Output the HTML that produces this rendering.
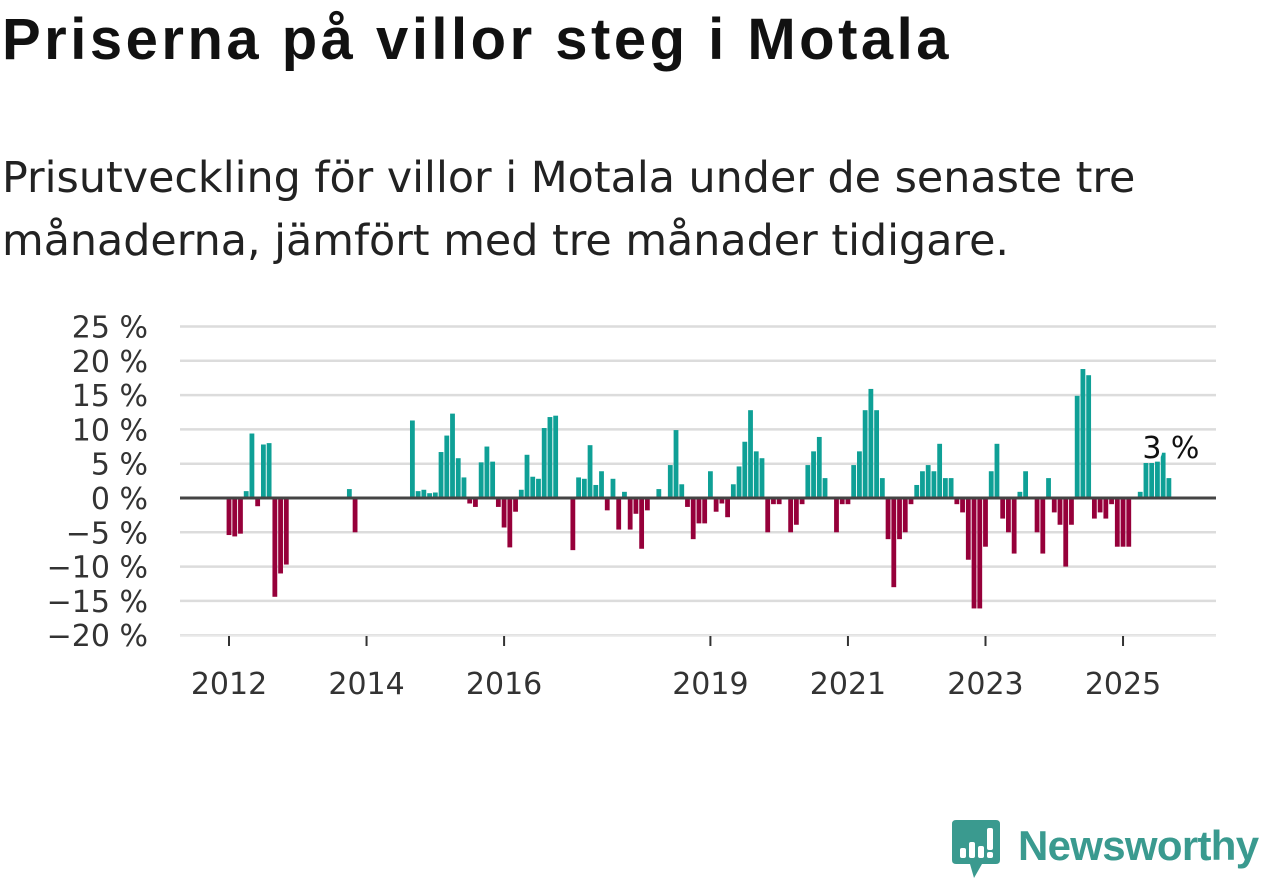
<!DOCTYPE html>
<html><head><meta charset="utf-8">
<style>
body{margin:0;background:#fff;width:1262px;height:879px;overflow:hidden;font-family:"Liberation Sans","DejaVu Sans",sans-serif;}
h1{position:absolute;left:2px;top:6px;margin:0;font-size:58px;font-weight:bold;color:#111;letter-spacing:3.5px;white-space:nowrap;}
.sub{position:absolute;left:2px;top:147px;margin:0;font-family:"DejaVu Sans",sans-serif;font-size:42.8px;line-height:63px;color:#222;white-space:nowrap;}
svg{position:absolute;left:0;top:0;}
</style></head><body>
<h1>Priserna på villor steg i Motala</h1>
<p class="sub">Prisutveckling för villor i Motala under de senaste tre<br>månaderna, jämfört med tre månader tidigare.</p>
<svg id="chart" width="1262" height="879"></svg>
<script>
const startYear = 2012;
const values = [-5.4,-5.6,-5.2,1,9.4,-1.2,7.8,8,-14.4,-11,-9.7,0,0,0,0,0,0,0,0,0,0,1.3,-5,0,0,0,0,0,0,0,0,0,
11.3,1.0,1.2,0.7,0.8,6.7,9.1,12.3,5.8,3.0,-0.8,-1.3,5.2,7.5,5.3,-1.3,-4.3,-7.2,-2.0,1.2,6.3,3.1,2.8,10.2,11.8,12.0,
0,0,-7.6,3.0,2.8,7.7,1.9,3.9,-1.8,2.8,-4.6,0.9,-4.6,-2.3,-7.4,-1.8,0,1.3,0,4.8,9.9,2.0,-1.3,-6.0,-3.7,-3.7,
3.9,-2.0,-0.8,-2.8,2.0,4.6,8.2,12.8,6.8,5.8,-5.0,-0.9,-0.9,0,-5.0,-3.9,-0.9,4.8,6.8,8.9,2.9,0,-5.0,-0.9,-0.9,
4.8,6.8,12.8,15.9,12.8,2.9,-6.0,-13.0,-6.0,-5.0,-0.9,1.9,3.9,4.8,3.9,7.9,2.9,2.9,-0.9,-2.1,-9.0,-16.1,-16.1,-7.1,
3.9,7.9,-3.0,-5.0,-8.1,0.9,3.9,0,-5.0,-8.1,2.9,-2.1,-3.9,-10.0,-3.9,14.9,18.8,17.9,-3.0,-2.1,-3.0,-0.9,-7.1,-7.1,-7.1,
0,0.9,5.1,5.1,5.3,6.6,2.9];
const yTicks = [25,20,15,10,5,0,-5,-10,-15,-20];
const xTickYears = [2012,2014,2016,2019,2021,2023,2025];
const lastLabel = "3 %";

const NS="http://www.w3.org/2000/svg";
const svg=document.getElementById('chart');
const x0=229, monthW=5.731, yZero=498, pxPer=6.86;
const FONT='DejaVu Sans, sans-serif';
const xScale=i=>x0+i*monthW;
const yScale=v=>yZero-v*pxPer;
function mk(t,a){const e=document.createElementNS(NS,t);for(const k in a)e.setAttribute(k,a[k]);svg.appendChild(e);return e;}
yTicks.forEach(v=>{
  const y=yScale(v);
  if(v!==0){const g=mk('line',{x1:180,x2:1216,y1:y,y2:y,stroke:'#dcdcdc','stroke-width':2.5});
  
  }
  const t=mk('text',{x:148,y:y+11,'text-anchor':'end','font-size':30,fill:'#333','font-family':FONT});
  t.textContent=(v<0?'\u2212'+(-v):v)+' %';
  
  
});
{const g=mk('line',{x1:180,x2:1216,y1:yScale(-20),y2:yScale(-20),stroke:'#e8e8e8','stroke-width':1.5});

}
xTickYears.forEach(yr=>{
  const x=xScale((yr-startYear)*12);
  const l=mk('line',{x1:x,x2:x,y1:636,y2:646,stroke:'#333','stroke-width':2});
  
  
  const t=mk('text',{x:x,y:694,'text-anchor':'middle','font-size':30,fill:'#333','font-family':FONT});
  t.textContent=yr;
  
  
});
values.forEach((v,i)=>{
  if(v===0)return;
  const x=xScale(i)-2.4, y=Math.min(yScale(v),yZero), h=Math.abs(yScale(v)-yZero);
  const r=mk('rect',{x:x,y:y,width:4.8,height:h,fill:v>0?'#0fa096':'#96003a'});
  
  
});
{const z=mk('line',{x1:180,x2:1216,y1:yZero,y2:yZero,stroke:'#444','stroke-width':3});

}
{const li=values.length-1;
const t=mk('text',{x:xScale(li)+2,y:458,'text-anchor':'middle','font-size':30,fill:'#111',stroke:'#fff','stroke-width':6,'paint-order':'stroke','stroke-linejoin':'round','font-family':FONT});
t.textContent=lastLabel;

}
</script>
<div style="position:absolute;left:952px;top:820px;width:310px;height:59px;">
  <svg width="50" height="59" style="position:absolute;left:0;top:0">
    <path d="M4 0 H44 Q48 0 48 4 V40 Q48 44 44 44 H30 L22 58 L18 44 H4 Q0 44 0 40 V4 Q0 0 4 0Z" fill="#3a9a8f"/>
    <rect x="8" y="28" width="6" height="10" rx="2" fill="#fff"/>
    <rect x="17" y="22" width="6" height="16" rx="2" fill="#fff"/>
    <rect x="26" y="26" width="6" height="12" rx="2" fill="#fff"/>
    <rect x="35" y="8" width="6" height="22" rx="2" fill="#fff"/>
    <rect x="35" y="32" width="6" height="6" rx="2" fill="#fff"/>
  </svg>
  <div style="position:absolute;left:66px;top:2px;font-size:42px;font-weight:bold;color:#3a9a8f;letter-spacing:-0.7px;">Newsworthy</div>
</div>
</body></html>
